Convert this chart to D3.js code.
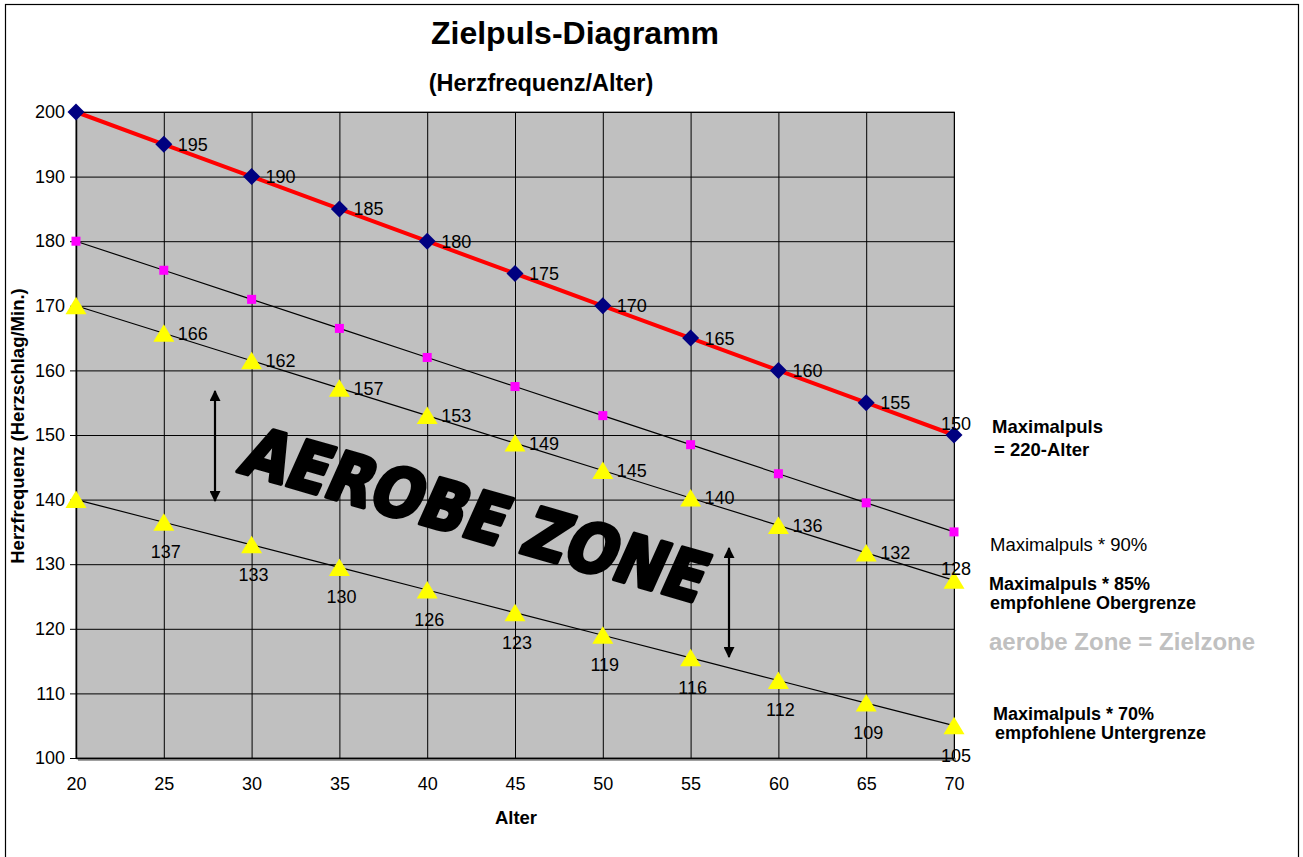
<!DOCTYPE html>
<html>
<head>
<meta charset="utf-8">
<script src="https://cdn.jsdelivr.net/npm/d3@7"></script>
<style>
  body { margin: 0; background: #fff; }
</style>
</head>
<body>
<div id="chart"></div>
<script>
// data
var alter = [20, 25, 30, 35, 40, 45, 50, 55, 60, 65, 70];
var maxPuls = [200, 195, 190, 185, 180, 175, 170, 165, 160, 155, 150];
var puls90 = [180, 175.5, 171, 166.5, 162, 157.5, 153, 148.5, 144, 139.5, 135];
var puls85 = [170, 165.75, 161.5, 157.25, 153, 148.75, 144.5, 140.25, 136, 131.75, 127.5];
var puls70 = [140, 136.5, 133, 129.5, 126, 122.5, 119, 115.5, 112, 108.5, 105];
var yTicks = [100, 110, 120, 130, 140, 150, 160, 170, 180, 190, 200];

var FONT = "Liberation Sans, Arial, sans-serif";
var width = 1303, height = 857;
var margin = { top: 112, left: 76, right: 349, bottom: 99 };

var svg = d3.select("#chart").append("svg")
    .attr("width", width)
    .attr("height", height)
    .attr("font-family", FONT);

// outer frame
svg.append("rect")
    .attr("x", 5.5).attr("y", 4.5)
    .attr("width", 1293).attr("height", 870)
    .attr("fill", "none").attr("stroke", "#000").attr("stroke-width", 1.2);

var x = d3.scaleLinear().domain([20, 70]).range([margin.left, width - margin.right]);
var y = d3.scaleLinear().domain([100, 200]).range([height - margin.bottom, margin.top]);

// plot background + shadow
svg.append("rect")
    .attr("x", x(20) + 2).attr("y", y(100))
    .attr("width", x(70) - x(20)).attr("height", 3)
    .attr("fill", "#a0a0a0");
svg.append("rect")
    .attr("x", x(20)).attr("y", y(200))
    .attr("width", x(70) - x(20)).attr("height", y(100) - y(200))
    .attr("fill", "#c0c0c0")
    .attr("stroke", "#808080").attr("stroke-width", 1.5);

// gridlines
svg.append("g")
    .attr("transform", "translate(" + x(20) + ",0)")
    .call(d3.axisLeft(y).tickValues(yTicks).tickSize(-(x(70) - x(20))).tickFormat(""))
    .call(function(g) { g.select(".domain").remove(); })
    .selectAll("line").attr("stroke", "#000").attr("stroke-width", 1);

svg.append("g")
    .attr("transform", "translate(0," + y(100) + ")")
    .call(d3.axisBottom(x).tickValues(alter).tickSize(-(y(100) - y(200))).tickFormat(""))
    .call(function(g) { g.select(".domain").remove(); })
    .selectAll("line").attr("stroke", "#000").attr("stroke-width", 1);

// axes
var yAxis = svg.append("g")
    .attr("transform", "translate(" + x(20) + ",0)")
    .call(d3.axisLeft(y).tickValues(yTicks).tickSize(6).tickSizeOuter(0).tickPadding(5));
yAxis.select(".domain").attr("stroke", "#000").attr("stroke-width", 1.5);
yAxis.selectAll("text").attr("font-size", "18px").attr("fill", "#000")
    .attr("font-family", FONT);

var xAxis = svg.append("g")
    .attr("transform", "translate(0," + y(100) + ")")
    .call(d3.axisBottom(x).tickValues(alter).tickSize(0).tickSizeOuter(0).tickPadding(19));
xAxis.select(".domain").attr("stroke", "#000").attr("stroke-width", 1.5);
xAxis.selectAll("text").attr("font-size", "18px").attr("fill", "#000")
    .attr("font-family", FONT);

// titles
svg.append("text").attr("x", 575).attr("y", 44)
    .attr("text-anchor", "middle").attr("font-size", "32px").attr("font-weight", "bold")
    .text("Zielpuls-Diagramm");
svg.append("text").attr("x", 541).attr("y", 91)
    .attr("text-anchor", "middle").attr("font-size", "23.5px").attr("font-weight", "bold")
    .text("(Herzfrequenz/Alter)");
svg.append("text").attr("x", 516).attr("y", 824)
    .attr("text-anchor", "middle").attr("font-size", "18.5px").attr("font-weight", "bold")
    .text("Alter");
svg.append("text")
    .attr("transform", "translate(24,426) rotate(-90)")
    .attr("text-anchor", "middle").attr("font-size", "18.5px").attr("font-weight", "bold")
    .text("Herzfrequenz (Herzschlag/Min.)");

// lines
function makeLine(vals) {
  return d3.line()
      .x(function(d, i) { return x(alter[i]); })
      .y(function(d) { return y(d); })(vals);
}

[puls90, puls85, puls70].forEach(function(s) {
  svg.append("path").attr("d", makeLine(s))
      .attr("fill", "none").attr("stroke", "#000").attr("stroke-width", 1.2);
});

// 90% markers
svg.append("g").selectAll("rect").data(puls90).join("rect")
    .attr("x", function(d, i) { return x(alter[i]) - 4.5; })
    .attr("y", function(d) { return y(d) - 4.5; })
    .attr("width", 9).attr("height", 9)
    .attr("fill", "#ff00ff");

// triangles
function tri(cx, cy) {
  return "M" + cx + "," + (cy - 9) + "L" + (cx + 10.5) + "," + (cy + 8.5) +
         "L" + (cx - 10.5) + "," + (cy + 8.5) + "Z";
}
[puls85, puls70].forEach(function(s) {
  svg.append("g").selectAll("path").data(s).join("path")
      .attr("d", function(d, i) { return tri(x(alter[i]), y(d)); })
      .attr("fill", "#ffff00");
});

// max line and diamonds
svg.append("path").attr("d", makeLine(maxPuls))
    .attr("fill", "none").attr("stroke", "#ff0000").attr("stroke-width", 4);

svg.append("g").selectAll("path").data(maxPuls).join("path")
    .attr("d", function(d, i) {
      var cx = x(alter[i]), cy = y(d), r = 8.5;
      return "M" + cx + "," + (cy - r) + "L" + (cx + r) + "," + cy +
             "L" + cx + "," + (cy + r) + "L" + (cx - r) + "," + cy + "Z";
    })
    .attr("fill", "#000080");

// data labels (first point of each series has none)
function labels(vals, pos) {
  var last = vals.length - 1;
  svg.append("g").selectAll("text").data(vals.slice(1)).join("text")
      .attr("x", function(d, j) {
        var i = j + 1;
        if (pos === "below" || i === last) return x(alter[i]) + 2;
        return x(alter[i]) + 14;
      })
      .attr("y", function(d, j) {
        var i = j + 1;
        if (pos === "below") return y(d) + 36;
        if (i === last) return y(d) - 5;
        return y(d) + 6.5;
      })
      .attr("text-anchor", function(d, j) {
        return (pos === "below" || j + 1 === last) ? "middle" : "start";
      })
      .attr("font-size", "18px").attr("fill", "#000")
      .text(function(d) { return Math.round(d); });
}
labels(maxPuls, "right");
labels(puls85, "right");
labels(puls70, "below");

// right side annotations
var notes = [
  { t: "Maximalpuls", x: 992, y: 433, w: "bold", s: 18.5, c: "#000" },
  { t: "= 220-Alter", x: 994, y: 456, w: "bold", s: 18.5, c: "#000" },
  { t: "Maximalpuls * 90%", x: 990, y: 551, w: "normal", s: 18.5, c: "#000" },
  { t: "Maximalpuls * 85%", x: 989, y: 590, w: "bold", s: 18, c: "#000" },
  { t: "empfohlene Obergrenze", x: 990, y: 609, w: "bold", s: 18, c: "#000" },
  { t: "aerobe Zone = Zielzone", x: 989, y: 650, w: "bold", s: 24, c: "#c0c0c0" },
  { t: "Maximalpuls * 70%", x: 993, y: 720, w: "bold", s: 18, c: "#000" },
  { t: "empfohlene Untergrenze", x: 995, y: 739, w: "bold", s: 18, c: "#000" }
];
svg.append("g").selectAll("text").data(notes).join("text")
    .attr("x", function(d) { return d.x; })
    .attr("y", function(d) { return d.y; })
    .attr("font-size", function(d) { return d.s + "px"; })
    .attr("font-weight", function(d) { return d.w; })
    .attr("fill", function(d) { return d.c; })
    .text(function(d) { return d.t; });

// AEROBE ZONE word art
svg.append("text")
    .attr("transform", "translate(474,520) rotate(16) skewX(-8)")
    .attr("text-anchor", "middle")
    .attr("dominant-baseline", "middle")
    .style("font-family", "DejaVu Sans, sans-serif")
    .attr("font-size", "68px").attr("font-weight", "bold")
    .attr("stroke", "#000").attr("stroke-width", 4).attr("stroke-linejoin", "round")
    .attr("textLength", 478).attr("lengthAdjust", "spacingAndGlyphs")
    .text("AEROBE ZONE");

// double arrows
svg.append("defs").append("marker")
    .attr("id", "ah").attr("viewBox", "0 0 10 10")
    .attr("refX", 9).attr("refY", 5)
    .attr("markerWidth", 5).attr("markerHeight", 5)
    .attr("markerUnits", "strokeWidth")
    .attr("orient", "auto-start-reverse")
    .append("path").attr("d", "M0,0L10,5L0,10Z").attr("fill", "#000");

[[215, 391, 501], [729, 548, 657]].forEach(function(a) {
  svg.append("line")
      .attr("x1", a[0]).attr("x2", a[0]).attr("y1", a[1]).attr("y2", a[2])
      .attr("stroke", "#000").attr("stroke-width", 2.2)
      .attr("marker-start", "url(#ah)").attr("marker-end", "url(#ah)");
});
</script>
</body>
</html>
